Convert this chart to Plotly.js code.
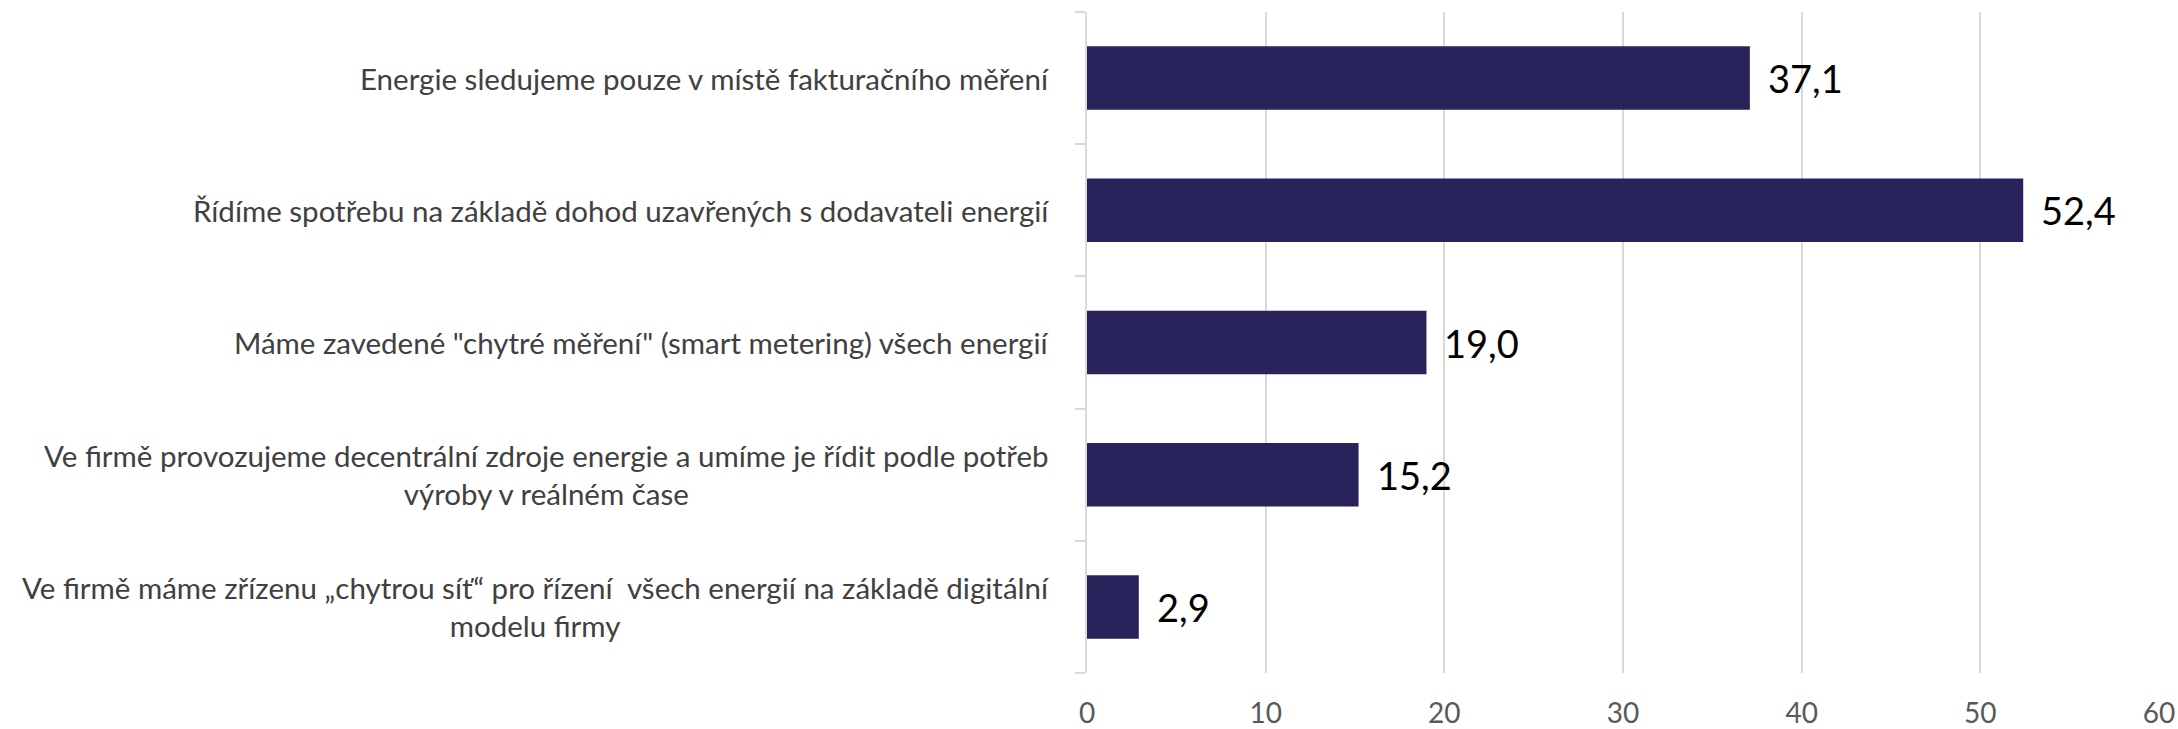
<!DOCTYPE html>
<html>
<head>
<meta charset="utf-8">
<script src="https://cdn.plot.ly/plotly-3.0.1.min.js"></script>
<style>html,body{margin:0;padding:0;background:#fff;}#chart{width:2178px;height:729px;}</style>
</head>
<body>
<div id="chart"></div>
<script>
const categories = [
  "Energie sledujeme pouze v místě fakturačního měření",
  "Řídíme spotřebu na základě dohod uzavřených s dodavateli energií",
  "Máme zavedené \"chytré měření\" (smart metering) všech energií",
  "Ve firmě provozujeme decentrální zdroje energie a umíme je řídit podle potřeb<br>výroby v reálném čase",
  "Ve firmě máme zřízenu „chytrou síť“ pro řízení  všech energií na základě digitální<br>modelu firmy"
];
const values = [37.1, 52.4, 19.0, 15.2, 2.9];
const xTicks = [0, 10, 20, 30, 40, 50, 60];

const FONT = "Lato, 'Open Sans', sans-serif";

const catAnnotations = categories.map((c, i) => ({
  text: c, xref: 'paper', x: 0, xanchor: 'right', xshift: -36,
  yref: 'y', y: i, yanchor: 'middle', align: 'center', showarrow: false,
  font: {family: FONT, size: 29.5, color: '#404040'}
}));
const valAnnotations = values.map((v, i) => ({
  text: v.toFixed(1).replace('.', ','), xref: 'x', x: v, xanchor: 'left', xshift: 16,
  yref: 'y', y: i, yanchor: 'middle', showarrow: false,
  font: {family: FONT, size: 38, color: '#000000'}
}));

const trace = {
  type: 'bar', orientation: 'h',
  x: values, y: categories.map((c, i) => i),
  marker: {color: '#29235C', line: {width: 0}},
  hoverinfo: 'none'
};

const layout = {
  width: 2178, height: 729,
  margin: {l: 1087, r: 19, t: 12, b: 56},
  paper_bgcolor: '#fff', plot_bgcolor: '#fff',
  bargap: 0.52,
  showlegend: false,
  font: {family: FONT},
  xaxis: {
    range: [0, 60], tickvals: xTicks, ticktext: xTicks.map(String),
    showgrid: true, gridcolor: '#d9d9d9', gridwidth: 2,
    zeroline: false, showline: false, ticks: '',
    ticklabelstandoff: 21,
    tickfont: {family: FONT, size: 28, color: '#595959'}
  },
  yaxis: {
    range: [4.5, -0.5], tickvals: [-0.5, 0.5, 1.5, 2.5, 3.5, 4.5],
    showticklabels: false, ticks: 'outside', ticklen: 10, tickcolor: '#d9d9d9', tickwidth: 2,
    showgrid: false, zeroline: false,
    showline: true, linecolor: '#d9d9d9', linewidth: 2
  },
  annotations: catAnnotations.concat(valAnnotations)
};

Plotly.newPlot('chart', [trace], layout, {displayModeBar: false, staticPlot: true});
</script>
</body>
</html>
